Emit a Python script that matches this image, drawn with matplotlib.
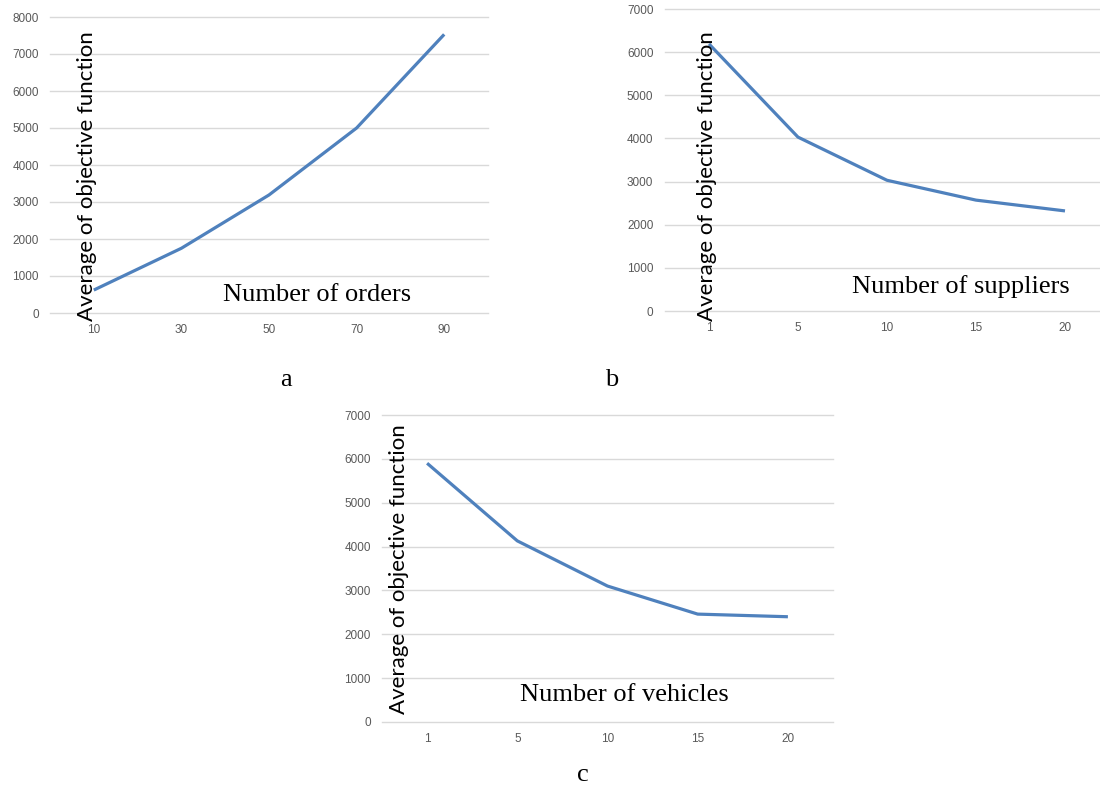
import matplotlib
matplotlib.use("Agg")
import matplotlib.pyplot as plt

# ---- data ----
orders = ["10", "30", "50", "70", "90"]
orders_vals = [620, 1750, 3190, 5000, 7530]

suppliers = ["1", "5", "10", "15", "20"]
suppliers_vals = [6190, 4030, 3030, 2570, 2320]

vehicles = ["1", "5", "10", "15", "20"]
vehicles_vals = [5900, 4130, 3100, 2460, 2400]

ylabel_text = "Average of objective function"

W, H = 1100, 787
fig = plt.figure(figsize=(W / 100, H / 100), dpi=100)

LINE = "#4F81BD"
GRID = "#D9D9D9"
TICK = "#595959"


def px_axes(left, right, top, bottom):
    return fig.add_axes([left / W, 1 - bottom / H, (right - left) / W, (bottom - top) / H])


def panel(ax, cats, vals, ymax, step):
    x = list(range(len(cats)))
    ax.plot(x, vals, color=LINE, lw=2.3, solid_capstyle="butt", zorder=3)
    ax.set_xlim(-0.5, len(cats) - 0.5)
    ax.set_ylim(0, ymax)
    ax.set_xticks(x)
    ax.set_xticklabels(cats)
    ax.set_yticks(list(range(0, ymax + 1, step)))
    ax.grid(axis="y", color=GRID, lw=1.0)
    ax.set_axisbelow(True)
    for gl in ax.get_ygridlines():
        gl.set_clip_on(False)
    for s in ax.spines.values():
        s.set_visible(False)
    ax.tick_params(length=0, labelsize=8.5, labelcolor=TICK, pad=8)
    for lab in ax.get_xticklabels() + ax.get_yticklabels():
        lab.set_fontfamily("Liberation Sans")
    ax.patch.set_alpha(0)


# panel a
ax_a = px_axes(50, 488, 17, 313)
panel(ax_a, orders, orders_vals, 8000, 1000)
# panel b
ax_b = px_axes(664.5, 1109.5, 9, 311)
panel(ax_b, suppliers, suppliers_vals, 7000, 1000)
# panel c
ax_c = px_axes(382, 833, 415, 722)
panel(ax_c, vehicles, vehicles_vals, 7000, 1000)

ylab_kw = dict(rotation=90, ha="center", va="bottom", fontsize=16,
               family="Lato", color="black")
fig.text(87 / W, 1 - 321 / H, ylabel_text, **ylab_kw)
fig.text(707 / W, 1 - 321 / H, ylabel_text, **ylab_kw)
fig.text(399 / W, 1 - 714 / H, ylabel_text, **ylab_kw)

xlab_kw = dict(ha="center", va="center", fontsize=19, family="Liberation Serif", color="black")
fig.text(317 / W, 1 - 295 / H, "Number of orders", **xlab_kw)
fig.text(961 / W, 1 - 287 / H, "Number of suppliers", **xlab_kw)
fig.text(624 / W, 1 - 695 / H, "Number of vehicles", **xlab_kw)

cap_kw = dict(ha="center", va="center", fontsize=19, family="Liberation Serif", color="black")
fig.text(286 / W, 1 - 380 / H, "a", **cap_kw)
fig.text(612 / W, 1 - 380 / H, "b", **cap_kw)
fig.text(583 / W, 1 - 775 / H, "c", **cap_kw)

fig.savefig("out.png", dpi=100)
